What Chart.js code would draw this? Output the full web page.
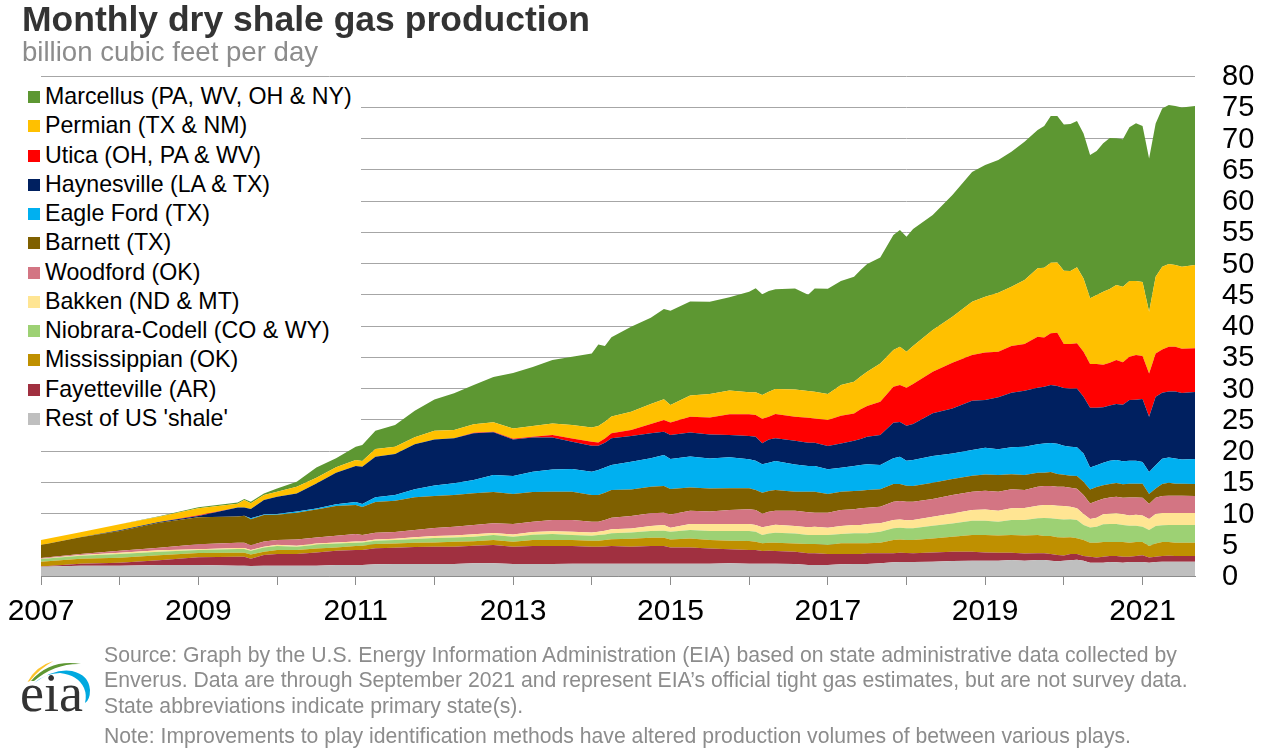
<!DOCTYPE html>
<html><head><meta charset="utf-8">
<script src="https://cdn.jsdelivr.net/npm/chart.js@4"></script>
<style>
html,body{margin:0;padding:0;background:#fff;overflow:hidden}
body{width:1264px;height:750px;position:relative;font-family:"Liberation Sans",Arial,sans-serif}
canvas{position:absolute;left:0;top:0}
.t{position:absolute;white-space:nowrap}
#title{left:22px;top:-2px;font-size:35.5px;font-weight:bold;color:#333;line-height:42px}
#sub{left:22px;top:37px;font-size:27.6px;color:#8c8c8c;line-height:30px}
#legend{position:absolute;left:28px;top:78px;width:333px;height:360px;background:#fff}
.li{position:absolute;left:0;height:29px;line-height:29px;font-size:23.2px;color:#000;white-space:nowrap}
.li i{position:absolute;left:0;top:9px;width:12px;height:12px}
.li span{position:absolute;left:17px;top:0}
.foot{left:104px;font-size:21.2px;color:#8c8c8c;line-height:24px}
svg{position:absolute;left:0;top:0}
</style></head>
<body>
<canvas id="c" width="1264" height="750"></canvas>
<div class="t" id="title">Monthly dry shale gas production</div>
<div class="t" id="sub">billion cubic feet per day</div>
<div id="legend"></div>
<div class="t foot" style="top:643px">Source: Graph by the U.S. Energy Information Administration (EIA) based on state administrative data collected by</div>
<div class="t foot" style="top:668px">Enverus. Data are through September 2021 and represent EIA’s official tight gas estimates, but are not survey data.</div>
<div class="t foot" style="top:694px">State abbreviations indicate primary state(s).</div>
<div class="t foot" style="top:724px">Note: Improvements to play identification methods have altered production volumes of between various plays.</div>
<svg width="120" height="750" viewBox="0 0 120 750">
<path d="M27.5 682 Q36 666 53.5 661 Q39 669 30 681 Z" fill="#fdc32b"/>
<path d="M31 681 Q50 659 81 664 Q55 663 34 681 Z" fill="#5d9732"/>
<path d="M34 683 Q55 668 72 671 Q89 675 90 690 Q90 700 85 703 Q87 695 84 688 Q78 675 60 673 Q46 673 34 683 Z" fill="#00a9e0"/>
<text x="20" y="711" font-family="Liberation Serif" font-size="54" fill="#333">eia</text>
</svg>
<script>
const months=[0,6,12,18,24,30,31,32,34,36,39,42,45,48,49,51,54,57,60,63,66,69,72,75,78,81,84,85,86,87,90,93,95,96,99,102,105,108,109,110,111,112,115,117,118,120,122,124,125,126,128,130,131,132,133,136,139,142,144,146,148,150,152,153,154,155,156,157,158,159,160,161,162,163,164,165,166,167,168,169,170,171,172,173,174,176];
const rest=[1.49,1.65,1.65,1.76,1.76,1.65,1.65,1.6,1.65,1.65,1.65,1.65,1.76,1.76,1.76,1.87,1.92,1.92,1.92,1.92,2.03,2.03,1.92,1.92,1.92,1.97,1.97,1.97,1.97,1.97,1.97,1.97,1.97,1.97,1.97,1.97,2.03,1.97,1.97,1.97,1.97,1.97,1.92,1.76,1.76,1.76,1.87,1.92,1.92,1.92,2.03,2.19,2.24,2.24,2.24,2.29,2.4,2.45,2.45,2.45,2.56,2.45,2.56,2.56,2.45,2.35,2.45,2.51,2.61,2.45,2.13,2.13,2.13,2.24,2.19,2.13,2.24,2.24,2.24,2.13,2.24,2.29,2.29,2.29,2.29,2.29];
const fayetteville=[.05,.32,.48,.75,1.23,1.44,1.44,1.17,1.71,1.87,1.87,2.13,2.29,2.4,2.4,2.56,2.61,2.72,2.77,2.77,2.83,2.93,2.77,2.88,2.88,2.83,2.72,2.72,2.77,2.83,2.72,2.83,2.83,2.61,2.61,2.45,2.24,2.19,2.19,2.03,2.08,2.03,1.97,1.87,1.87,1.76,1.65,1.6,1.6,1.71,1.6,1.44,1.49,1.44,1.39,1.49,1.49,1.44,1.33,1.28,1.17,1.17,1.07,1.07,1.07,1.01,.85,1.01,.91,.75,.96,.85,.96,.96,1.01,.96,.85,.96,1.07,.85,.85,.91,.96,.91,.91,.91];
const mississippian=[.75,.8,.8,.8,.69,.64,.64,.69,.53,.64,.64,.64,.53,.64,.69,.69,.69,.69,.69,.8,.69,.8,.8,.96,.96,.96,.96,.96,1.01,1.07,1.28,1.33,1.33,1.28,1.44,1.33,1.39,1.44,1.33,1.23,1.28,1.33,1.33,1.49,1.49,1.44,1.71,1.71,1.71,1.6,1.71,2.13,2.13,2.08,2.13,2.24,2.4,2.67,2.77,2.77,2.83,2.88,2.93,2.77,2.88,2.83,2.88,2.67,2.51,2.56,2.24,2.35,2.35,2.24,2.24,2.35,2.24,2.24,2.13,1.81,2.13,2.24,2.19,2.13,2.13,2.13];
const niobrara=[.43,.48,.59,.59,.48,.59,.59,.59,.69,.64,.53,.59,.64,.53,.53,.53,.53,.59,.69,.69,.75,.8,.8,.85,.96,.8,.8,.91,.91,.96,1.01,1.07,1.12,1.23,1.33,1.44,1.55,1.6,1.6,1.33,1.49,1.6,1.6,1.44,1.44,1.6,1.49,1.6,1.6,1.6,1.76,1.87,1.87,1.87,1.87,2.03,2.13,2.29,2.29,2.19,2.4,2.45,2.67,2.88,2.83,2.93,2.88,2.88,2.93,2.4,2.45,2.56,2.83,2.88,2.88,2.72,2.72,2.61,2.45,2.56,2.77,2.67,2.72,2.83,2.83,2.83];
const bakken=[.05,.11,.21,.21,.11,.16,.16,.11,.11,.21,.16,.21,.16,.21,.16,.21,.21,.27,.32,.32,.37,.32,.37,.43,.43,.53,.53,.53,.59,.64,.64,.8,.91,.64,.96,1.12,1.12,1.12,1.07,1.23,1.17,1.28,1.17,1.23,1.33,1.17,1.28,1.33,1.33,1.49,1.33,1.33,1.33,1.28,1.33,1.44,1.6,1.71,1.81,1.76,1.87,1.92,2.03,2.08,2.13,2.13,2.13,2.03,1.87,1.76,1.33,1.44,1.6,1.65,1.71,1.71,1.65,1.76,1.81,1.76,1.92,1.97,1.92,1.92,1.92,1.92];
const woodford=[.11,.16,.32,.43,.8,.85,.85,.75,.85,.75,1.01,.96,1.07,1.17,1.01,1.07,1.07,1.17,1.28,1.39,1.49,1.55,1.65,1.65,1.81,1.87,1.71,1.6,1.71,1.87,1.97,2.03,1.97,2.13,2.13,2.03,2.24,2.35,2.4,2.19,2.29,2.24,2.45,2.4,2.24,2.4,2.56,2.51,2.67,2.61,2.67,2.93,2.93,2.99,2.93,2.83,2.93,2.93,2.99,3.04,3.04,2.88,3.04,3.04,3.04,3.04,3.09,3.04,3.15,3.04,2.51,2.67,2.51,2.61,2.67,2.67,2.88,2.77,2.83,2.4,2.61,2.72,2.77,2.77,2.77,2.72];
const barnett=[2.08,2.67,3.15,4,4.32,4.21,4.32,4.16,4.21,4.05,4.27,4.48,4.75,4.64,4.48,4.91,5.01,5.23,5.12,5.07,5.07,5.01,4.8,4.75,4.53,4.53,4.27,4.27,4.37,4.43,4.27,4.27,4.27,4.05,3.73,3.68,3.47,3.36,3.2,3.36,3.31,3.31,3.04,3.31,3.36,2.99,2.93,2.93,2.83,2.83,2.77,2.83,2.72,2.56,2.51,2.61,2.56,2.56,2.61,2.67,2.4,2.4,2.24,2.13,2.24,2.03,1.92,1.92,2.03,2.13,2.24,2.24,2.13,2.13,2.19,2.13,2.19,2.19,2.24,1.6,1.49,1.92,2.08,1.92,1.92,1.92];
const eagleFord=[0,0,0,0,0,0,0,.16,.11,.11,.21,.16,.27,.48,.48,.75,.91,1.28,1.71,1.87,2.13,2.72,2.88,3.25,3.57,3.63,3.73,4,4.05,4,4.43,4.53,4.96,4.8,4.96,4.8,4.96,4.64,4.69,4.53,4.53,4.64,4.37,4.11,4.11,3.95,3.84,4,4.11,4.11,3.89,4.11,4.37,4,4.16,4.27,4.11,4.11,4.27,4.11,4.32,4.53,4.53,4.69,4.64,4.85,4.64,4.64,4.59,4.53,3.52,3.47,3.63,3.73,3.68,3.68,3.68,3.68,3.47,3.52,3.73,4.05,4.05,4.05,3.89,4];
const haynesville=[0,0,.11,.11,.21,1.44,1.33,1.49,2.29,2.77,2.88,4,5.07,5.76,5.97,6.51,6.56,7.2,7.36,7.2,7.47,6.83,5.87,5.49,5.12,4.37,4.16,3.89,3.95,4.27,4.11,4,3.73,3.84,3.84,3.84,3.57,3.73,3.84,3.36,3.73,3.63,3.79,3.73,3.73,3.73,3.89,4.05,4.16,4.43,4.8,5.71,5.55,5.6,5.76,6.83,7.2,7.89,7.63,8.32,8.75,8.96,9.07,9.07,9.28,9.23,9.23,9.28,9.39,9.07,9.55,9.23,8.85,8.85,8.96,9.07,9.71,9.76,10.08,8.85,10.93,10.56,10.56,10.72,10.61,10.72];
const utica=[0,0,0,0,.11,0,0,0,0,0,0,0,0,0,0,0,0,0,0,0,.11,.11,.11,.11,.37,.53,.64,.53,.69,.8,.96,1.49,1.87,2.03,2.51,2.72,3.31,3.47,3.47,3.95,3.63,3.89,3.84,4,3.89,4.16,4.43,4.37,4.75,4.91,5.33,5.76,5.92,6.08,6.4,6.67,7.31,7.31,7.63,7.31,7.47,7.47,8.16,7.89,8.27,8.53,7.04,7.15,7.25,7.2,6.99,6.99,6.83,6.83,7.04,6.77,6.93,7.15,6.88,6.93,6.93,6.93,7.15,7.15,7.09,6.99];
const permian=[.8,.8,.96,.85,1.12,.59,1.17,.91,.8,.8,1.07,.91,.85,.96,.91,1.23,1.17,1.12,1.39,1.33,1.33,1.49,1.65,1.71,1.87,2.13,2.29,2.61,2.67,2.67,2.93,3.2,3.31,2.77,3.41,3.73,3.79,3.52,3.63,3.79,4,4,4.37,4.27,4.27,4.16,4.91,5.07,5.23,5.49,6.13,5.87,6.13,5.76,6.08,6.67,7.36,8.53,8.91,9.44,9.49,10.24,10.93,11.15,11.31,11.25,11.73,11.68,12.16,11.73,10.51,11.04,11.68,11.79,12,12.11,12.11,11.84,11.84,9.87,12.27,13.23,13.23,13.07,13.12,13.33];
const marcellus=[0,0,0,.05,.16,.21,.16,.27,.27,.53,.8,1.65,1.44,2.13,2.56,2.93,3.47,4.27,5.01,5.87,6.29,7.25,8.85,9.44,10.13,10.93,11.84,13.07,12.11,12.69,13.6,13.81,14.45,15.09,15.04,14.77,14.93,16.11,16.64,16.11,16.11,15.95,16.16,15.41,16.53,16.85,16.64,16.8,17.07,17.23,16.96,18.4,18.67,18.4,18.72,18.4,19.47,20.75,21.07,21.23,21.6,22.13,22.13,22.67,23.47,23.41,23.41,23.52,23.41,23.2,22.93,23.04,23.73,24.16,23.47,23.57,24.59,25.23,24.96,24.53,24.53,25.33,25.44,25.44,25.49,25.44];
const seriesNames=["Rest of US 'shale'","Fayetteville (AR)","Mississippian (OK)","Niobrara-Codell (CO & WY)","Bakken (ND & MT)","Woodford (OK)","Barnett (TX)","Eagle Ford (TX)","Haynesville (LA & TX)","Utica (OH, PA & WV)","Permian (TX & NM)","Marcellus (PA, WV, OH & NY)"];
const seriesColors=["#BFBFBF","#A03040","#BF9000","#9DD174","#FFE593","#D37583","#7F6000","#00B0F0","#002060","#FF0000","#FFC000","#5D9732"];
const seriesValues=[rest,fayetteville,mississippian,niobrara,bakken,woodford,barnett,eagleFord,haynesville,utica,permian,marcellus];
const startYear=2007;

const lg=document.getElementById('legend');
[...seriesNames].reverse().forEach((n,i)=>{
  const c=[...seriesColors].reverse()[i];
  const d=document.createElement('div');d.className='li';d.style.top=(4+i*29.27)+'px';
  const sw=document.createElement('i');sw.style.background=c;
  const s=document.createElement('span');s.textContent=n;
  d.append(sw,s);lg.append(d);
});

Chart.defaults.font.family='"Liberation Sans",Arial,sans-serif';
new Chart(document.getElementById('c'),{
  type:'line',
  data:{datasets:seriesValues.map((vals,i)=>({
    label:seriesNames[i],
    data:vals.map((v,k)=>({x:months[k],y:v})),
    backgroundColor:seriesColors[i],
    borderColor:seriesColors[i],
    borderWidth:0,pointRadius:0,tension:0,
    fill:i===0?'origin':'-1'
  }))},
  options:{
    responsive:false,animation:false,devicePixelRatio:1,
    layout:{padding:{left:41,top:76,right:0,bottom:0}},
    plugins:{legend:{display:false},title:{display:false},tooltip:{enabled:false}},
    scales:{
      x:{type:'linear',min:0,max:176,
        afterFit:s=>{s.height=174;s.paddingLeft=0;s.paddingRight=0},
        ticks:{stepSize:12,includeBounds:false,autoSkip:false,maxRotation:0,padding:9,color:'#000',font:{size:30},
          callback:v=>v%24===0?String(startYear+v/12):''},
        grid:{drawOnChartArea:false,drawTicks:true,tickLength:9,color:'#8c8c8c',lineWidth:1},
        border:{color:'#8c8c8c',width:1}},
      y:{position:'right',stacked:true,min:0,max:80,
        afterFit:s=>{s.width=69},
        ticks:{stepSize:5,autoSkip:false,padding:27,labelOffset:1,color:'#000',font:{size:29}},
        grid:{color:'#a6a6a6',lineWidth:1,drawTicks:false},
        border:{display:false}}
    }
  }
});
</script>
</body></html>
